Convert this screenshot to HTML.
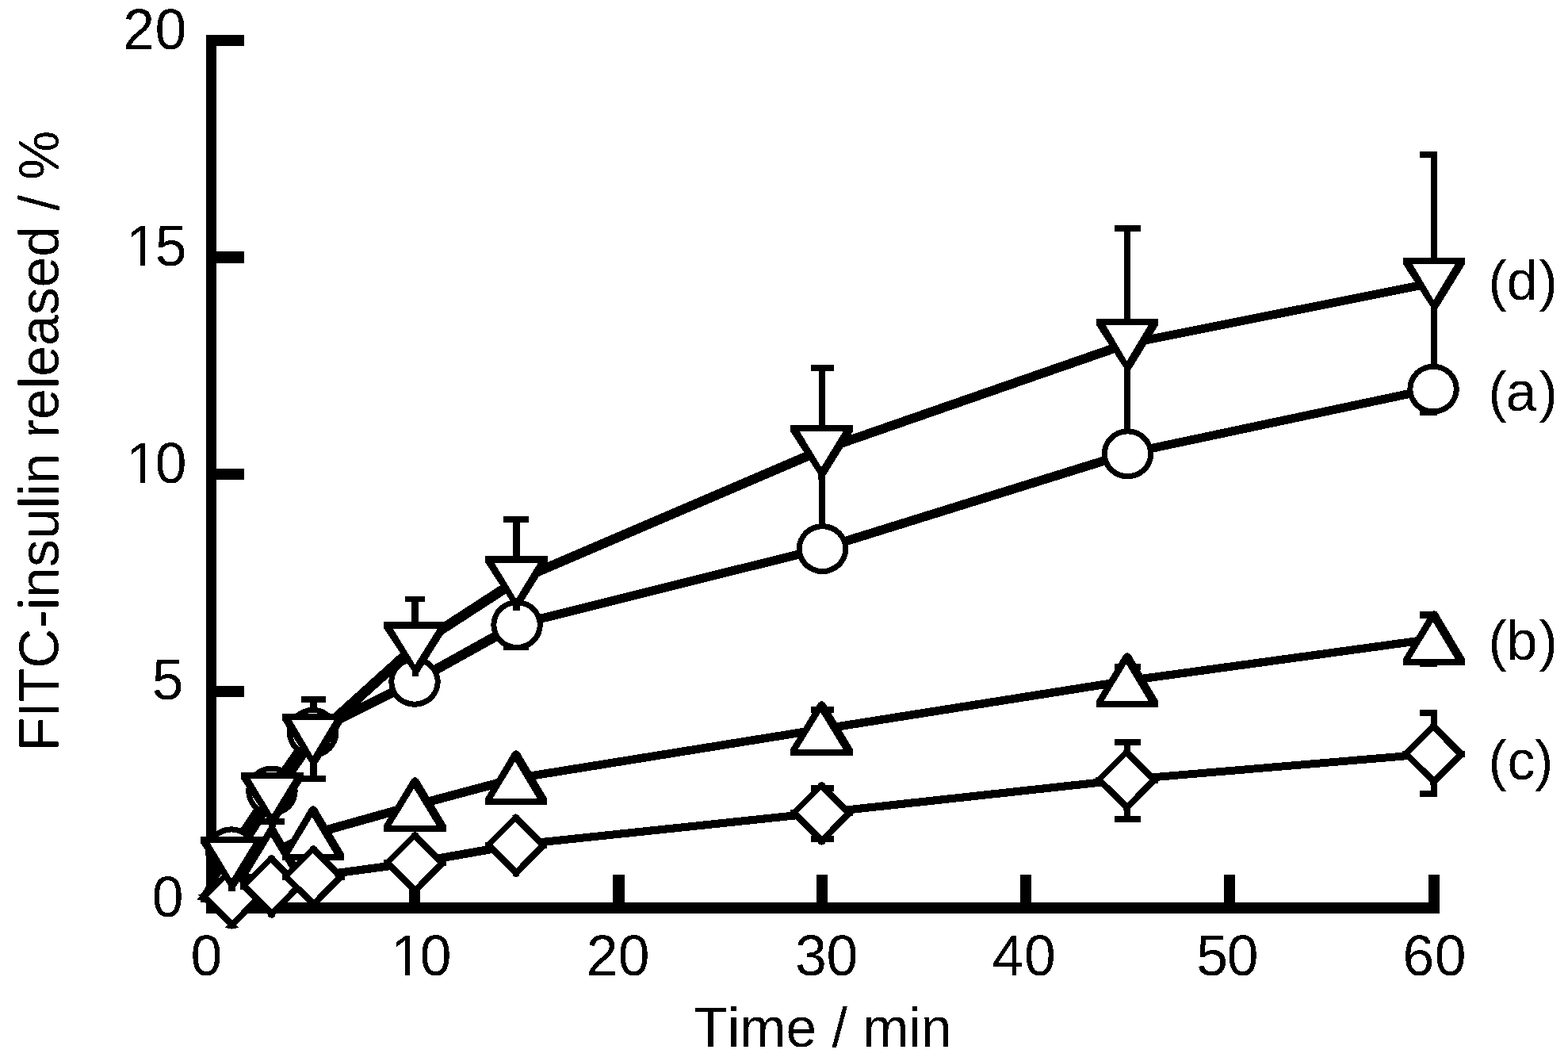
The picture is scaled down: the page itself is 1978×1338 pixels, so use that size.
<!DOCTYPE html>
<html lang="en"><head><meta charset="utf-8"><title>FITC-insulin released vs time</title>
<style>html,body{margin:0;padding:0;background:#fff}body{width:1978px;height:1338px;overflow:hidden}svg{display:block}text{font-family:"Liberation Sans",sans-serif;fill:#000;font-kerning:none}</style>
</head><body>
<svg width="1978" height="1338" viewBox="0 0 1978 1338">
<rect width="1978" height="1338" fill="#fff"/>
<defs><filter id="bilevel" filterUnits="userSpaceOnUse" x="0" y="0" width="1978" height="1338" color-interpolation-filters="sRGB"><feComponentTransfer><feFuncA type="discrete" tableValues="0 1"/></feComponentTransfer></filter></defs>
<g id="axes" fill="#000" shape-rendering="crispEdges">
<rect x="260" y="44" width="13" height="1108"/>
<rect x="260" y="1138" width="1556" height="14"/>
<rect x="260" y="44" width="48" height="14"/>
<rect x="260" y="317" width="48" height="15"/>
<rect x="260" y="591" width="48" height="14"/>
<rect x="260" y="865" width="48" height="14"/>
<rect x="516" y="1103" width="14" height="40"/>
<rect x="773" y="1103" width="15" height="40"/>
<rect x="1030" y="1103" width="14" height="40"/>
<rect x="1287" y="1103" width="14" height="40"/>
<rect x="1544" y="1103" width="14" height="40"/>
<rect x="1802" y="1103" width="14" height="40"/>
</g>
<g id="lines" fill="#000" shape-rendering="crispEdges">
<polygon points="261.9,1140.4 287.2,1069.2 296.4,1069.2 296.4,1078.4 271.1,1149.6 261.9,1149.6"/>
<polygon points="287.2,1069.2 338.3,992.4 347.5,992.4 347.5,1001.6 296.4,1078.4 287.2,1078.4"/>
<polygon points="338.3,992.4 390,918.7 399.2,918.7 399.2,927.9 347.5,1001.6 338.3,1001.6"/>
<polygon points="390,918.7 518.4,854.7 527.6,854.7 527.6,863.9 399.2,927.9 390,927.9"/>
<polygon points="518.4,854.7 647.45,783 656.65,783 656.65,792.2 527.6,863.9 518.4,863.9"/>
<polygon points="647.45,783 1032.9,687 1042.1,687 1042.1,696.2 656.65,792.2 647.45,792.2"/>
<polygon points="1032.9,687 1417.9,567.2 1427.1,567.2 1427.1,576.4 1042.1,696.2 1032.9,696.2"/>
<polygon points="1417.9,567.2 1803.45,485.5 1812.65,485.5 1812.65,494.7 1427.1,576.4 1417.9,576.4"/>
<polygon points="261.9,1140.4 287.9,1098.9 297.1,1098.9 297.1,1108.1 271.1,1149.6 261.9,1149.6"/>
<polygon points="287.9,1098.9 338.4,1071.9 347.6,1071.9 347.6,1081.1 297.1,1108.1 287.9,1108.1"/>
<polygon points="338.4,1071.9 390.4,1046.9 399.6,1046.9 399.6,1056.1 347.6,1081.1 338.4,1081.1"/>
<polygon points="390.4,1046.9 518.9,1010.9 528.1,1010.9 528.1,1020.1 399.6,1056.1 390.4,1056.1"/>
<polygon points="518.9,1010.9 646.4,976.9 655.6,976.9 655.6,986.1 528.1,1020.1 518.9,1020.1"/>
<polygon points="646.4,976.9 1031.9,914.9 1041.1,914.9 1041.1,924.1 655.6,986.1 646.4,986.1"/>
<polygon points="1031.9,914.9 1417.4,853.9 1426.6,853.9 1426.6,863.1 1041.1,924.1 1031.9,924.1"/>
<polygon points="1417.4,853.9 1804.4,800.9 1813.6,800.9 1813.6,810.1 1426.6,863.1 1417.4,863.1"/>
<polygon points="261.9,1140.4 288,1126.2 297.2,1126.2 297.2,1135.4 271.1,1149.6 261.9,1149.6"/>
<polygon points="288,1126.2 338,1112.4 347.2,1112.4 347.2,1121.6 297.2,1135.4 288,1135.4"/>
<polygon points="338,1112.4 390.7,1100.4 399.9,1100.4 399.9,1109.6 347.2,1121.6 338,1121.6"/>
<polygon points="390.7,1100.4 518.9,1083.2 528.1,1083.2 528.1,1092.4 399.9,1109.6 390.7,1109.6"/>
<polygon points="518.9,1083.2 646.3,1060.8 655.5,1060.8 655.5,1070 528.1,1092.4 518.9,1092.4"/>
<polygon points="646.3,1060.8 1031.9,1020.3 1041.1,1020.3 1041.1,1029.5 655.5,1070 646.3,1070"/>
<polygon points="1031.9,1020.3 1416.8,978.4 1426,978.4 1426,987.6 1041.1,1029.5 1031.9,1029.5"/>
<polygon points="1416.8,978.4 1804,945.8 1813.2,945.8 1813.2,955 1426,987.6 1416.8,987.6"/>
<polygon points="261.9,1140.4 287.4,1081.9 296.6,1081.9 296.6,1091.1 271.1,1149.6 261.9,1149.6"/>
<polygon points="287.4,1081.9 338.9,1000.9 348.1,1000.9 348.1,1010.1 296.6,1091.1 287.4,1091.1"/>
<polygon points="338.9,1000.9 390.4,926.9 399.6,926.9 399.6,936.1 348.1,1010.1 338.9,1010.1"/>
<polygon points="390.4,926.9 518.9,810.9 528.1,810.9 528.1,820.1 399.6,936.1 390.4,936.1"/>
<polygon points="518.9,810.9 646.9,727.9 656.1,727.9 656.1,737.1 528.1,820.1 518.9,820.1"/>
<polygon points="646.9,727.9 1031.9,562.9 1041.1,562.9 1041.1,572.1 656.1,737.1 646.9,737.1"/>
<polygon points="1031.9,562.9 1417.4,428.9 1426.6,428.9 1426.6,438.1 1041.1,572.1 1031.9,572.1"/>
<polygon points="1417.4,428.9 1804.4,351.9 1813.6,351.9 1813.6,361.1 1426.6,438.1 1417.4,438.1"/>
</g>
<g id="errorbars" fill="#000" shape-rendering="crispEdges">
<rect x="339" y="972" width="8" height="68"/>
<rect x="328" y="972" width="31" height="8"/>
<rect x="328" y="1032" width="31" height="8"/>
<rect x="391" y="878" width="9" height="108"/>
<rect x="380" y="878" width="31" height="8"/>
<rect x="380" y="978" width="31" height="8"/>
<rect x="519" y="752" width="9" height="130"/>
<rect x="511" y="752" width="25" height="7"/>
<rect x="511" y="874" width="25" height="8"/>
<rect x="647" y="651" width="9" height="169"/>
<rect x="635" y="651" width="32" height="8"/>
<rect x="635" y="812" width="32" height="8"/>
<rect x="1033" y="460" width="8" height="217"/>
<rect x="1023" y="460" width="29" height="8"/>
<rect x="1023" y="669" width="29" height="8"/>
<rect x="1418" y="284" width="8" height="301"/>
<rect x="1406" y="284" width="33" height="8"/>
<rect x="1406" y="577" width="33" height="8"/>
<rect x="1805" y="191" width="8" height="333"/>
<rect x="1791" y="191" width="22" height="8"/>
<rect x="1791" y="516" width="22" height="8"/>
<rect x="1033" y="891" width="8" height="58"/>
<rect x="1023" y="891" width="29" height="8"/>
<rect x="1023" y="941" width="29" height="8"/>
<rect x="1418" y="837" width="8" height="44"/>
<rect x="1406" y="837" width="33" height="8"/>
<rect x="1406" y="873" width="33" height="8"/>
<rect x="1805" y="771" width="8" height="70"/>
<rect x="1791" y="771" width="22" height="9"/>
<rect x="1791" y="833" width="22" height="8"/>
<rect x="1033" y="990" width="8" height="72"/>
<rect x="1023" y="990" width="29" height="8"/>
<rect x="1023" y="1054" width="29" height="8"/>
<rect x="1418" y="932" width="8" height="105"/>
<rect x="1406" y="932" width="33" height="8"/>
<rect x="1406" y="1029" width="33" height="8"/>
<rect x="1805" y="895" width="8" height="110"/>
<rect x="1791" y="895" width="22" height="8"/>
<rect x="1791" y="997" width="22" height="8"/>
</g>
<g id="markers-a" shape-rendering="crispEdges">
<ellipse cx="291.8" cy="1074.3" rx="32.75" ry="32" fill="#000"/><ellipse cx="291.8" cy="1074.3" rx="25.75" ry="24.9" fill="#fff"/>
<ellipse cx="342.9" cy="997.5" rx="32.75" ry="32" fill="#000"/><ellipse cx="342.9" cy="997.5" rx="25.75" ry="24.9" fill="#fff"/>
<ellipse cx="394.6" cy="923.8" rx="32.75" ry="32" fill="#000"/><ellipse cx="394.6" cy="923.8" rx="25.75" ry="24.9" fill="#fff"/>
<ellipse cx="523" cy="859.8" rx="32.75" ry="32" fill="#000"/><ellipse cx="523" cy="859.8" rx="25.75" ry="24.9" fill="#fff"/>
<ellipse cx="652.05" cy="788.1" rx="32.75" ry="32" fill="#000"/><ellipse cx="652.05" cy="788.1" rx="25.75" ry="24.9" fill="#fff"/>
<ellipse cx="1037.5" cy="692.1" rx="32.75" ry="32" fill="#000"/><ellipse cx="1037.5" cy="692.1" rx="25.75" ry="24.9" fill="#fff"/>
<ellipse cx="1422.5" cy="572.3" rx="32.75" ry="32" fill="#000"/><ellipse cx="1422.5" cy="572.3" rx="25.75" ry="24.9" fill="#fff"/>
<ellipse cx="1808.05" cy="490.6" rx="32.75" ry="32" fill="#000"/><ellipse cx="1808.05" cy="490.6" rx="25.75" ry="24.9" fill="#fff"/>
</g>
<g id="markers-b" shape-rendering="crispEdges">
<polygon fill="#000" points="292.5,1067.6 296.9,1070.6 332,1129 332,1137 253,1137 253,1129 288.1,1070.6"/><polygon fill="#fff" points="291.2,1082.4 319.7,1129 262.5,1129"/>
<polygon fill="#000" points="343,1040.6 347.4,1043.6 382,1102 382,1110 304,1110 304,1102 338.6,1043.6"/><polygon fill="#fff" points="341.7,1055.4 369.7,1102 313.5,1102"/>
<polygon fill="#000" points="395,1015.6 399.4,1018.6 434,1077 434,1085 356,1085 356,1077 390.6,1018.6"/><polygon fill="#fff" points="393.7,1030.4 421.7,1077 365.5,1077"/>
<polygon fill="#000" points="523.5,979.6 527.9,982.6 563,1041 563,1049 484,1049 484,1041 519.1,982.6"/><polygon fill="#fff" points="522.2,994.4 550.7,1041 493.5,1041"/>
<polygon fill="#000" points="651,945.6 655.4,948.6 690,1007 690,1015 612,1015 612,1007 646.6,948.6"/><polygon fill="#fff" points="649.7,960.4 677.7,1007 621.5,1007"/>
<polygon fill="#000" points="1036.5,883.6 1040.9,886.6 1076,945 1076,953 997,953 997,945 1032.1,886.6"/><polygon fill="#fff" points="1035.2,898.4 1063.7,945 1006.5,945"/>
<polygon fill="#000" points="1422,822.6 1426.4,825.6 1461,884 1461,892 1383,892 1383,884 1417.6,825.6"/><polygon fill="#fff" points="1420.7,837.4 1448.7,884 1392.5,884"/>
<polygon fill="#000" points="1809,769.6 1813.4,772.6 1848,831 1848,839 1770,839 1770,831 1804.6,772.6"/><polygon fill="#fff" points="1807.7,784.4 1835.7,831 1779.5,831"/>
</g>
<g id="markers-c" shape-rendering="crispEdges">
<polygon fill="#000" points="292.6,1091.7 297,1093.9 297,1095.1 329.2,1127.3 332,1127.3 332,1135.3 329.2,1135.3 297,1167.5 297,1169.9 292.6,1171.7 288.2,1169.9 288.2,1167.5 256,1135.3 253.2,1135.3 253.2,1127.3 256,1127.3 288.2,1095.1 288.2,1093.9"/><polygon fill="#fff" points="291.7,1102 321.1,1131.6 293,1160.2 262.9,1130.6"/>
<polygon fill="#000" points="342.6,1077.9 347,1080.1 347,1081.3 379.2,1113.5 382,1113.5 382,1121.5 379.2,1121.5 347,1153.7 347,1156.1 342.6,1157.9 338.2,1156.1 338.2,1153.7 306,1121.5 303.2,1121.5 303.2,1113.5 306,1113.5 338.2,1081.3 338.2,1080.1"/><polygon fill="#fff" points="341.7,1088.2 371.1,1117.8 343,1146.4 312.9,1116.8"/>
<polygon fill="#000" points="395.3,1065.9 399.7,1068.1 399.7,1069.3 431.9,1101.5 434.7,1101.5 434.7,1109.5 431.9,1109.5 399.7,1141.7 399.7,1144.1 395.3,1145.9 390.9,1144.1 390.9,1141.7 358.7,1109.5 355.9,1109.5 355.9,1101.5 358.7,1101.5 390.9,1069.3 390.9,1068.1"/><polygon fill="#fff" points="394.4,1076.2 423.8,1105.8 395.7,1134.4 365.6,1104.8"/>
<polygon fill="#000" points="523.5,1048.7 527.9,1050.9 527.9,1052.1 560.1,1084.3 562.9,1084.3 562.9,1092.3 560.1,1092.3 527.9,1124.5 527.9,1126.9 523.5,1128.7 519.1,1126.9 519.1,1124.5 486.9,1092.3 484.1,1092.3 484.1,1084.3 486.9,1084.3 519.1,1052.1 519.1,1050.9"/><polygon fill="#fff" points="522.6,1059 552,1088.6 523.9,1117.2 493.8,1087.6"/>
<polygon fill="#000" points="650.9,1026.3 655.3,1028.5 655.3,1029.7 687.5,1061.9 690.3,1061.9 690.3,1069.9 687.5,1069.9 655.3,1102.1 655.3,1104.5 650.9,1106.3 646.5,1104.5 646.5,1102.1 614.3,1069.9 611.5,1069.9 611.5,1061.9 614.3,1061.9 646.5,1029.7 646.5,1028.5"/><polygon fill="#fff" points="650,1036.6 679.4,1066.2 651.3,1094.8 621.2,1065.2"/>
<polygon fill="#000" points="1036.5,985.8 1040.9,988 1040.9,989.2 1073.1,1021.4 1075.9,1021.4 1075.9,1029.4 1073.1,1029.4 1040.9,1061.6 1040.9,1064 1036.5,1065.8 1032.1,1064 1032.1,1061.6 999.9,1029.4 997.1,1029.4 997.1,1021.4 999.9,1021.4 1032.1,989.2 1032.1,988"/><polygon fill="#fff" points="1035.6,996.1 1065,1025.7 1036.9,1054.3 1006.8,1024.7"/>
<polygon fill="#000" points="1421.4,943.9 1425.8,946.1 1425.8,947.3 1458,979.5 1460.8,979.5 1460.8,987.5 1458,987.5 1425.8,1019.7 1425.8,1022.1 1421.4,1023.9 1417,1022.1 1417,1019.7 1384.8,987.5 1382,987.5 1382,979.5 1384.8,979.5 1417,947.3 1417,946.1"/><polygon fill="#fff" points="1420.5,954.2 1449.9,983.8 1421.8,1012.4 1391.7,982.8"/>
<polygon fill="#000" points="1808.6,911.3 1813,913.5 1813,914.7 1845.2,946.9 1848,946.9 1848,954.9 1845.2,954.9 1813,987.1 1813,989.5 1808.6,991.3 1804.2,989.5 1804.2,987.1 1772,954.9 1769.2,954.9 1769.2,946.9 1772,946.9 1804.2,914.7 1804.2,913.5"/><polygon fill="#fff" points="1807.7,921.6 1837.1,951.2 1809,979.8 1778.9,950.2"/>
<polygon fill="#000" points="260,1121 255,1128 249,1128 251.5,1130.5 249,1133 249,1134.5 253,1134.5 253,1138 260,1138"/>
<polygon fill="#000" points="287.5,1166 284,1169.5 288.5,1170.8 296.5,1170.8 301,1169.5 297.5,1166"/>
</g>
<g id="markers-d" shape-rendering="crispEdges">
<polygon fill="#000" points="253,1055 332,1055 332,1063 296.9,1119.3 296.9,1123.6 288.1,1123.6 288.1,1116.6 253,1063"/><polygon fill="#fff" points="264.8,1063 319.7,1063 292,1108.3"/>
<polygon fill="#000" points="304,974 383,974 383,982 347.9,1038.3 347.9,1042.6 339.1,1042.6 339.1,1035.6 304,982"/><polygon fill="#fff" points="315.8,982 370.7,982 343,1027.3"/>
<polygon fill="#000" points="356,900 434,900 434,908 399.4,964.3 399.4,968.6 390.6,968.6 390.6,961.6 356,908"/><polygon fill="#fff" points="367.8,908 421.7,908 394.5,953.3"/>
<polygon fill="#000" points="484,784 564,784 564,792 528.4,848.3 528.4,852.6 519.6,852.6 519.6,845.6 484,792"/><polygon fill="#fff" points="495.8,793 551.7,793 523.5,838.3"/>
<polygon fill="#000" points="612,701 691,701 691,709 655.9,765.3 655.9,769.6 647.1,769.6 647.1,762.6 612,709"/><polygon fill="#fff" points="623.8,710 678.7,710 651,755.3"/>
<polygon fill="#000" points="997,536 1076,536 1076,544 1040.9,600.3 1040.9,604.6 1032.1,604.6 1032.1,597.6 997,544"/><polygon fill="#fff" points="1008.8,544 1063.7,544 1036,589.3"/>
<polygon fill="#000" points="1383,402 1461,402 1461,410 1426.4,466.3 1426.4,470.6 1417.6,470.6 1417.6,463.6 1383,410"/><polygon fill="#fff" points="1394.8,410 1448.7,410 1421.5,455.3"/>
<polygon fill="#000" points="1770,325 1848,325 1848,333 1813.4,389.3 1813.4,393.6 1804.6,393.6 1804.6,386.6 1770,333"/><polygon fill="#fff" points="1781.8,333 1835.7,333 1808.5,378.3"/>
</g>
<g id="text" filter="url(#bilevel)">
<g id="ylabels">
<text x="155.32 195.42" y="61.9" font-size="71.5">20</text>
<text x="158.81 195.74" y="335" font-size="71.5">15</text><rect x="162.76" y="327.66" width="14.03" height="8.84" fill="#fff" shape-rendering="crispEdges"/><rect x="183.11" y="327.66" width="13.48" height="8.84" fill="#fff" shape-rendering="crispEdges"/>
<text x="158.81 195.67" y="608.9" font-size="71.5">10</text><rect x="162.76" y="601.56" width="14.03" height="8.84" fill="#fff" shape-rendering="crispEdges"/><rect x="183.11" y="601.56" width="13.48" height="8.84" fill="#fff" shape-rendering="crispEdges"/>
<text x="191.64" y="882.3" font-size="71.5">5</text>
<text x="191.67" y="1156.3" font-size="71.5">0</text>
</g>
<g id="xlabels">
<text x="240.62" y="1230.4" font-size="71.5">0</text>
<text x="492.91 529.67" y="1230.4" font-size="71.5">10</text><rect x="496.86" y="1223.06" width="14.03" height="8.84" fill="#fff" shape-rendering="crispEdges"/><rect x="517.21" y="1223.06" width="13.48" height="8.84" fill="#fff" shape-rendering="crispEdges"/>
<text x="739.87 779.77" y="1230.4" font-size="71.5">20</text>
<text x="1002.93 1042.57" y="1230.4" font-size="71.5">30</text>
<text x="1251.79 1292.12" y="1230.4" font-size="71.5">40</text>
<text x="1509.14 1547.77" y="1230.4" font-size="71.5">50</text>
<text x="1769.62 1809.72" y="1230.4" font-size="71.5">60</text>
</g>
<text x="875.3" y="1319.7" font-size="69.7">Time / min</text>
<text transform="translate(73.5 556) rotate(-90)" text-anchor="middle" font-size="69.7">FITC-insulin released / %</text>
<g id="legend" font-size="70">
<text x="1877.4 1900.7 1941.5" y="377.8">(d)</text>
<text x="1877.4 1899.6 1941.5" y="517.8">(a)</text>
<text x="1877.4 1900.4 1941.5" y="831.8">(b)</text>
<text x="1877.4 1901.5 1936.1" y="982.6">(c)</text>
</g>
</g>
</svg>
</body></html>
